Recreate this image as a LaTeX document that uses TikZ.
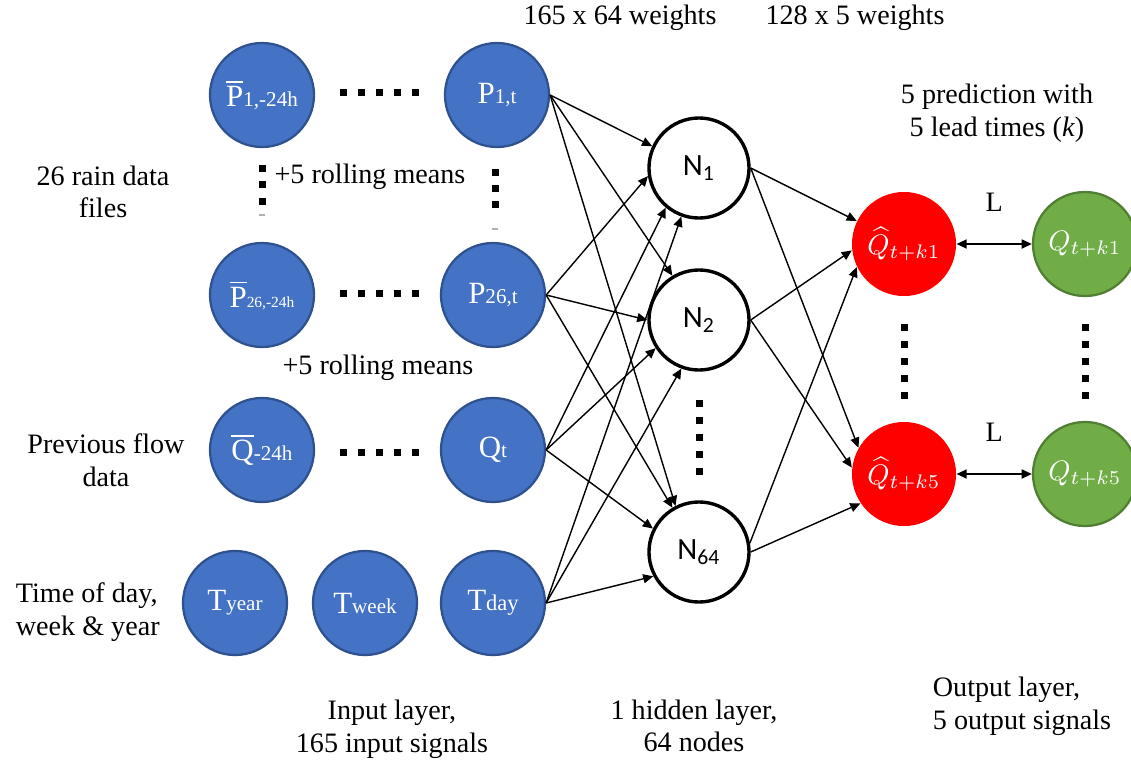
\documentclass[tikz,border=0pt]{standalone}
\usepackage[no-math]{fontspec}
\setmainfont{Liberation Serif}
\setsansfont{Carlito}
\usepackage{amsmath}
\usetikzlibrary{arrows.meta}

\definecolor{inblue}{HTML}{4472C4}
\definecolor{inblueline}{HTML}{2F528F}
\definecolor{obsgreen}{HTML}{70AD47}
\definecolor{obsgreenline}{HTML}{507E32}

% big letter + small index on the baseline
\newcommand{\inlab}[3][7.5]{{\fontsize{11}{13}\selectfont #2}{\fontsize{#1}{9}\selectfont #3}}

\begin{document}
\begin{tikzpicture}[x=0.0125cm,y=-0.0125cm,
    innode/.style={circle,fill=inblue,draw=inblueline,line width=0.8pt,minimum size=1.3cm,inner sep=0pt,text=white},
    hidnode/.style={circle,draw=black,line width=1.2pt,minimum size=1.25cm,inner sep=0pt,font=\sffamily\fontsize{11}{13}\selectfont},
    prednode/.style={circle,fill=red,minimum size=1.3cm,inner sep=0pt,text=white},
    obsnode/.style={circle,fill=obsgreen,draw=obsgreenline,line width=0.8pt,minimum size=1.3cm,inner sep=0pt,text=white},
    link/.style={-{Triangle[length=3.6pt,width=3.2pt]},line width=0.5pt},
    lossarrow/.style={{Triangle[length=3.6pt,width=3.2pt]}-{Triangle[length=3.6pt,width=3.2pt]},line width=0.6pt},
    lab/.style={font=\fontsize{10}{11.6}\selectfont}]
\useasboundingbox (0,0) rectangle (1131,765);

% input layer
\node[innode] (p1m) at (262,95) {\inlab{$\overline{\mbox{P}}$}{1,-24h}};
\node[innode] (p1t) at (497,95) {\inlab{P}{1,t}};
\node[innode] (p26m) at (262,295) {\inlab[5.5]{$\overline{\mbox{P}}$}{26,-24h}};
\node[innode] (p26t) at (493,295) {\inlab{P}{26,t}};
\node[innode] (qm) at (262,450) {\inlab{$\overline{\mbox{Q}}$}{-24h}};
\node[innode] (qt) at (493,450) {\inlab{Q}{t}};
\node[innode] (tyear) at (235,603) {\inlab{T}{year}};
\node[innode] (tweek) at (365,603) {\inlab{T}{week}};
\node[innode] (tday) at (493,603) {\inlab[8]{T}{day}};

% hidden layer
\node[hidnode] (n1) at (699,168) {N\textsubscript{1}};
\node[hidnode] (n2) at (699,320) {N\textsubscript{2}};
\node[hidnode] (n64) at (699,552) {N\textsubscript{64}};

% output layer
\node[prednode] (qh1) at (904,244) {$\widehat{Q}_{t+k1}$};
\node[prednode] (qh5) at (904,474) {$\widehat{Q}_{t+k5}$};
\node[obsnode] (qo1) at (1085,244) {$Q_{t+k1}$};
\node[obsnode] (qo5) at (1085,474) {$Q_{t+k5}$};

% dots
\foreach \y in {92,293,452}
    \foreach \x in {343,361,379,397,415}
        \fill (\x-3.5,\y-3.5) rectangle +(7,7);
\foreach \y in {168,184,201}
    \fill (262-3.5,\y-3.5) rectangle +(7,7);
\foreach \y in {172,188,204}
    \fill (495-3.5,\y-3.5) rectangle +(7,7);
\fill[gray!60] (259,214) rectangle (265,215.5);
\fill[gray!60] (492,228) rectangle (498,229.5);
\foreach \y in {403,420,437,454,471}
    \fill (699-3.5,\y-3.5) rectangle +(7,7);
\foreach \x in {904,1085}
    \foreach \y in {327,344,361,378,395}
        \fill (\x-3.5,\y-3.5) rectangle +(7,7);

% input -> hidden
\draw[link] (p1t.east) -- (n1.155);
\draw[link] (p1t.east) -- (n2.121);
\draw[link] (p1t.east) -- (n64.117);
\draw[link] (p26t.east) -- (n1.189);
\draw[link] (p26t.east) -- (n2.180);
\draw[link] (p26t.east) -- (n64.121);
\draw[link] (qt.east) -- (n1.230);
\draw[link] (qt.east) -- (n2.213);
\draw[link] (qt.east) -- (n64.153);
\draw[link] (tday.east) -- (n1.250);
\draw[link] (tday.east) -- (n2.250);
\draw[link] (tday.east) -- (n64.208);

% hidden -> output
\draw[link] (n1.east) -- (qh1.154);
\draw[link] (n1.east) -- (qh5.150);
\draw[link] (n2.east) -- (qh1.187);
\draw[link] (n2.east) -- (qh5.173);
\draw[link] (n64.10) -- (qh1.206);
\draw[link] (n64.east) -- (qh5.214);

% loss
\draw[lossarrow] (qh1) -- node[lab,above=0.28cm] {L} (qo1);
\draw[lossarrow] (qh5) -- node[lab,above=0.28cm] {L} (qo5);

% labels
\node[lab] (w1lab) at (620,18) {165 x 64 weights};
\node[lab] (w2lab) at (855,18) {128 x 5 weights};
\node[lab,align=center] (predlab) at (997,113) {5 prediction with\\5 lead times (\textit{k})};
\node[lab,align=center] (rainlab) at (103,192) {26 rain data\\files};
\node[lab] (roll1) at (370,177) {+5 rolling means};
\node[lab] (roll2) at (378,368) {+5 rolling means};
\node[lab,align=center] (flowlab) at (106,460) {Previous flow\\data};
\node[lab,align=left,anchor=west] (timelab) at (6,612) {Time of day,\\week \& year};
\node[lab,align=center] (inputlab) at (392,729) {Input layer,\\165 input signals};
\node[lab,align=center] (hidlab) at (694,726) {1 hidden layer,\\64 nodes};
\node[lab,align=left,anchor=west] (outlab) at (923,706) {Output layer,\\5 output signals};
\end{tikzpicture}
\end{document}
